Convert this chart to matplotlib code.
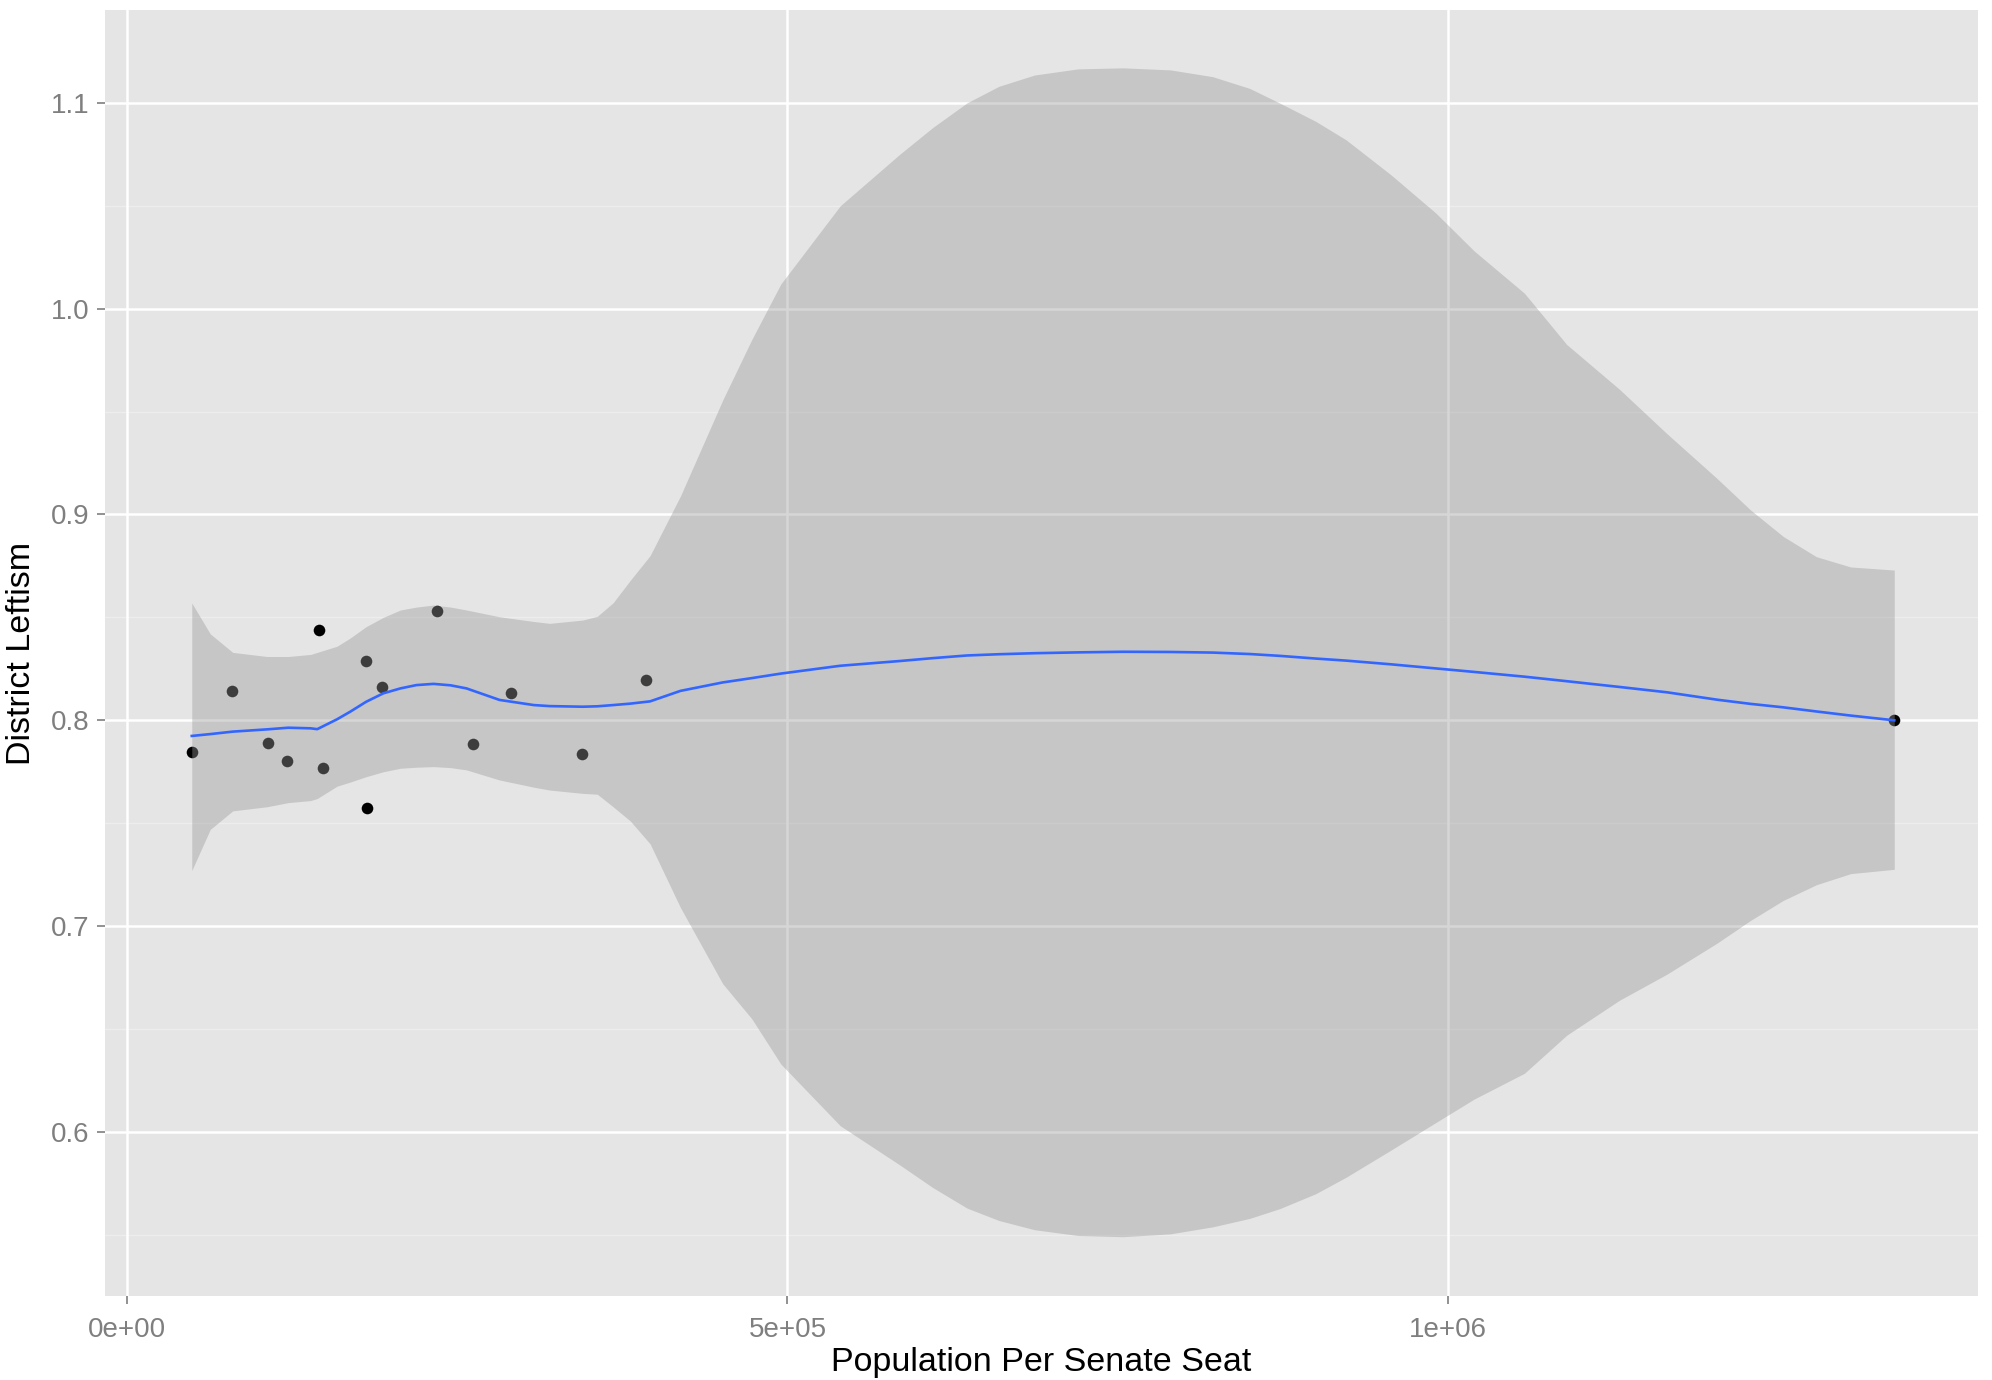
import matplotlib
matplotlib.use("Agg")
import matplotlib.pyplot as plt
import numpy as np

# ---- data ----
pop_per_seat = [48985, 79268, 106978, 120909, 145363, 148619, 180947, 192834,
                181477, 234928, 261730, 290726, 344708, 392708, 1337796]
leftism = [0.7845, 0.8144, 0.7891, 0.7804, 0.8439, 0.7767, 0.8290, 0.8163,
           0.7572, 0.8531, 0.7883, 0.8134, 0.7835, 0.8196, 0.8000]

# smoother (loess) curve and confidence band
fit_x = [49e3, 63e3, 80e3, 106e3, 122e3, 139e3, 144e3, 159e3, 169e3, 181e3,
         194e3, 207e3, 219e3, 232e3, 245e3, 257e3, 282e3, 308e3, 320e3, 345e3,
         356e3, 368e3, 381e3, 396e3, 419e3, 451e3, 473e3, 495e3, 540e3, 585e3,
         610e3, 636e3, 660e3, 687e3, 720e3, 754e3, 790e3, 822e3, 850e3, 873e3,
         900e3, 923e3, 957e3, 991e3, 1020e3, 1058e3, 1090e3,
         1130e3, 1166e3, 1204e3, 1229e3, 1254e3, 1279e3, 1305e3, 1338e3]
fit_y = [0.7924, 0.7933, 0.7945, 0.7956, 0.7964, 0.7961, 0.7957, 0.8005, 0.8042, 0.8090,
         0.8131, 0.8155, 0.8171, 0.8177, 0.8170, 0.8155, 0.8099, 0.8074, 0.8069, 0.8066,
         0.8068, 0.8074, 0.8081, 0.8092, 0.8143, 0.8184, 0.8205, 0.8227, 0.8265, 0.8288,
         0.8302, 0.8315, 0.8321, 0.8326, 0.8330, 0.8333, 0.8332, 0.8329, 0.8322, 0.8313,
         0.8300, 0.8290, 0.8272, 0.8252, 0.8235, 0.8212, 0.8190,
         0.8162, 0.8136, 0.8100, 0.8080, 0.8063, 0.8043, 0.8023, 0.8000]
band_hi = [0.857, 0.842, 0.833, 0.831, 0.831, 0.832, 0.833, 0.836, 0.840, 0.8455,
           0.850, 0.8536, 0.855, 0.856, 0.855, 0.8536, 0.8503, 0.848, 0.8471, 0.8487,
           0.8505, 0.8571, 0.868, 0.880, 0.909, 0.9556, 0.985, 1.012, 1.050, 1.0750,
           1.088, 1.100, 1.108, 1.1135, 1.1165, 1.117, 1.116, 1.1127, 1.107, 1.0998,
           1.091, 1.082, 1.065, 1.0464, 1.028, 1.0075, 0.9826,
           0.9608, 0.9392, 0.9174, 0.9023, 0.8893, 0.8795, 0.8745, 0.8730]
band_lo = [0.727, 0.747, 0.756, 0.758, 0.760, 0.761, 0.762, 0.768, 0.770, 0.7726,
           0.775, 0.7767, 0.7772, 0.7775, 0.777, 0.7759, 0.7710, 0.7675, 0.7661, 0.7645,
           0.7641, 0.758, 0.7511, 0.740, 0.709, 0.672, 0.655, 0.633, 0.603, 0.5840,
           0.573, 0.563, 0.557, 0.5525, 0.5497, 0.5491, 0.5505, 0.5539, 0.558, 0.5628,
           0.570, 0.578, 0.5912, 0.6046, 0.616, 0.6285, 0.647,
           0.664, 0.6767, 0.6918, 0.7027, 0.7125, 0.7201, 0.7255, 0.7276]

x_ticks = [0, 5e5, 1e6]
x_tick_labels = ["0e+00", "5e+05", "1e+06"]
y_ticks = [0.6, 0.7, 0.8, 0.9, 1.0, 1.1]
y_tick_labels = ["0.6", "0.7", "0.8", "0.9", "1.0", "1.1"]
y_minor = [0.55, 0.65, 0.75, 0.85, 0.95, 1.05]

plt.rcParams['font.family'] = ['Liberation Sans', 'DejaVu Sans']

fig = plt.figure(figsize=(19.92, 13.80), dpi=100)
ax = fig.add_axes([105 / 1992, 84 / 1380, (1978 - 105) / 1992, (1370 - 84) / 1380])
ax.set_facecolor("#E5E5E5")

# grid
for v in y_minor:
    ax.axhline(v, color="#EDEDED", lw=1.0, zorder=0.5)
for v in x_ticks:
    ax.axvline(v, color="white", lw=1.8, zorder=0.6)
for v in y_ticks:
    ax.axhline(v, color="white", lw=1.8, zorder=0.6)

ax.scatter(pop_per_seat, leftism, s=70, color="black", zorder=2, linewidths=0)
ax.fill_between(fit_x, band_lo, band_hi, color="#999999", alpha=0.4, linewidth=0, zorder=3)
ax.plot(fit_x, fit_y, color="#3366FF", lw=1.9, zorder=4)

ax.set_xlim(-16.7e3, 1401.4e3)
ax.set_ylim(0.5203, 1.1451)
ax.set_xticks(x_ticks)
ax.set_xticklabels(x_tick_labels)
ax.set_yticks(y_ticks)
ax.set_yticklabels(y_tick_labels)
ax.tick_params(colors="#7F7F7F", labelcolor="#7F7F7F", labelsize=20, length=6, width=1.2)
ax.tick_params(axis="x", pad=9)
ax.tick_params(axis="y", pad=5)
for s in ax.spines.values():
    s.set_visible(False)

ax.set_xlabel("Population Per Senate Seat", fontsize=24.5, color="black", labelpad=3)
ax.set_ylabel("District Leftism", fontsize=24.5, color="black", labelpad=10)

fig.savefig("out.png", dpi=100, facecolor="white")
